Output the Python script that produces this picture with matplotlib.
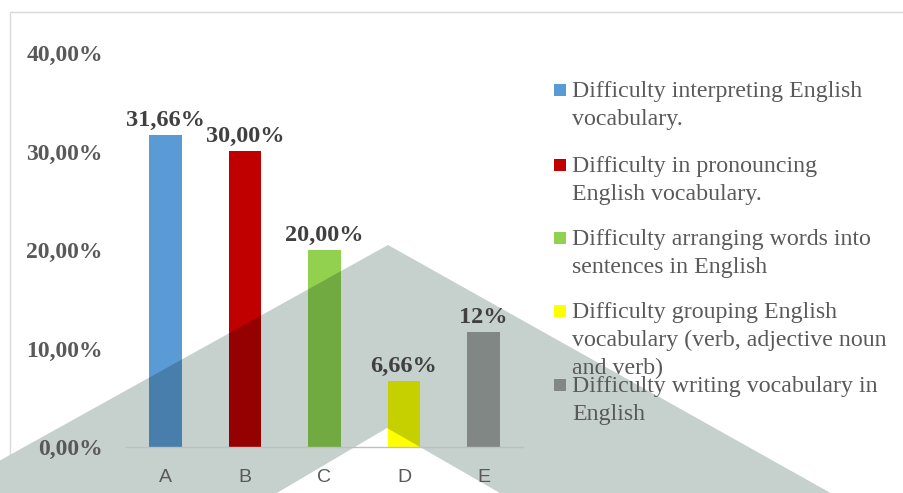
import numpy as np
import matplotlib.pyplot as plt
from matplotlib.patches import Polygon, Rectangle
from matplotlib.colors import to_rgb

# Chart data
categories = ['A', 'B', 'C', 'D', 'E']
values = [31.66, 30.00, 20.00, 6.66, 11.66]
value_labels = ['31,66%', '30,00%', '20,00%', '6,66%', '12%']
colors = ['#5B9BD5', '#C00000', '#92D050', '#FFFF00', '#A5A5A5']
legend_labels = ['Difficulty interpreting English\nvocabulary.',
                 'Difficulty in pronouncing\nEnglish vocabulary.',
                 'Difficulty arranging words into\nsentences in English',
                 'Difficulty grouping English\nvocabulary (verb, adjective noun\nand verb)',
                 'Difficulty writing vocabulary in\nEnglish']
yticks = [0, 10, 20, 30, 40]

W, H = 904, 493
fig = plt.figure(figsize=(W / 100, H / 100), dpi=100)


def fxy(x, y):
    # pixel position (from top left) -> figure fraction
    return (x / W, 1 - y / H)


# watermark chevron, multiply-blended over what lies below it
shade = np.array(to_rgb('#C6D0CD'))
chevron = [fxy(*p) for p in [(-10, 500), (-10, 466), (388, 245), (843, 500),
                             (512, 500), (387, 428), (265, 500)]]


def shaded(color):
    return tuple(np.array(to_rgb(color)) * shade)


# outer border of the chart area
fig.add_artist(Rectangle(fxy(10, 520), 1000 / W, 508 / H, transform=fig.transFigure,
                         fill=False, edgecolor='#D9D9D9', lw=1, zorder=-2))
fig.add_artist(Polygon(chevron, closed=True, transform=fig.transFigure,
                       facecolor=tuple(shade), edgecolor='none', zorder=-1))

ax = fig.add_axes([125.75 / W, 1 - 447 / H, 397.5 / W, 394 / H])
ax.patch.set_visible(False)

x = np.arange(len(categories))
bars = ax.bar(x, values, width=0.415, color=colors, zorder=2)
for bar, c in zip(bars, colors):
    p = Polygon(chevron, closed=True, transform=fig.transFigure,
                facecolor=shaded(c), edgecolor='none', zorder=3)
    ax.add_patch(p)
    p.set_clip_path(bar)

for xi, v, lab in zip(x, values, value_labels):
    ax.annotate(lab, (xi, v), xytext=(0, 3), textcoords='offset points',
                ha='center', va='bottom', fontsize=17.5, fontweight='bold',
                family='Liberation Serif', color='#404040', zorder=5)

ax.set_xlim(-0.5, 4.5)
ax.set_ylim(0, 40)
ax.set_xticks(x)
ax.set_xticklabels(categories, family='Liberation Sans', fontsize=14, color='#595959')
ax.set_yticks(yticks)
ax.set_yticklabels([f'{t},00%' for t in yticks], family='Liberation Serif',
                   fontsize=17, fontweight='bold', color='#595959')
ax.tick_params(axis='both', length=0)
ax.tick_params(axis='y', pad=16.5)
ax.tick_params(axis='x', pad=16)
for s in ['top', 'right', 'left']:
    ax.spines[s].set_visible(False)
ax.spines['bottom'].set_color('#BFBFBF')
ax.spines['bottom'].set_linewidth(1)
ax.spines['bottom'].set_zorder(4)

# legend drawn by hand to keep the fixed row spacing of the original
baselines = [97, 172, 245, 318, 392]
for lab, c, yb in zip(legend_labels, colors, baselines):
    sq = Rectangle(fxy(554, yb - 1), 12 / W, 12 / H, transform=fig.transFigure,
                   facecolor=c, edgecolor='none', zorder=2)
    fig.add_artist(sq)
    p = Polygon(chevron, closed=True, transform=fig.transFigure,
                facecolor=shaded(c), edgecolor='none', zorder=3)
    fig.add_artist(p)
    p.set_clip_path(sq)
    for j, line in enumerate(lab.split('\n')):
        fig.text(*fxy(572, yb + 28 * j), line, ha='left', va='baseline',
                 family='Liberation Serif', fontsize=17.2, color='#595959', zorder=5)

fig.savefig('out.png', dpi=100)
